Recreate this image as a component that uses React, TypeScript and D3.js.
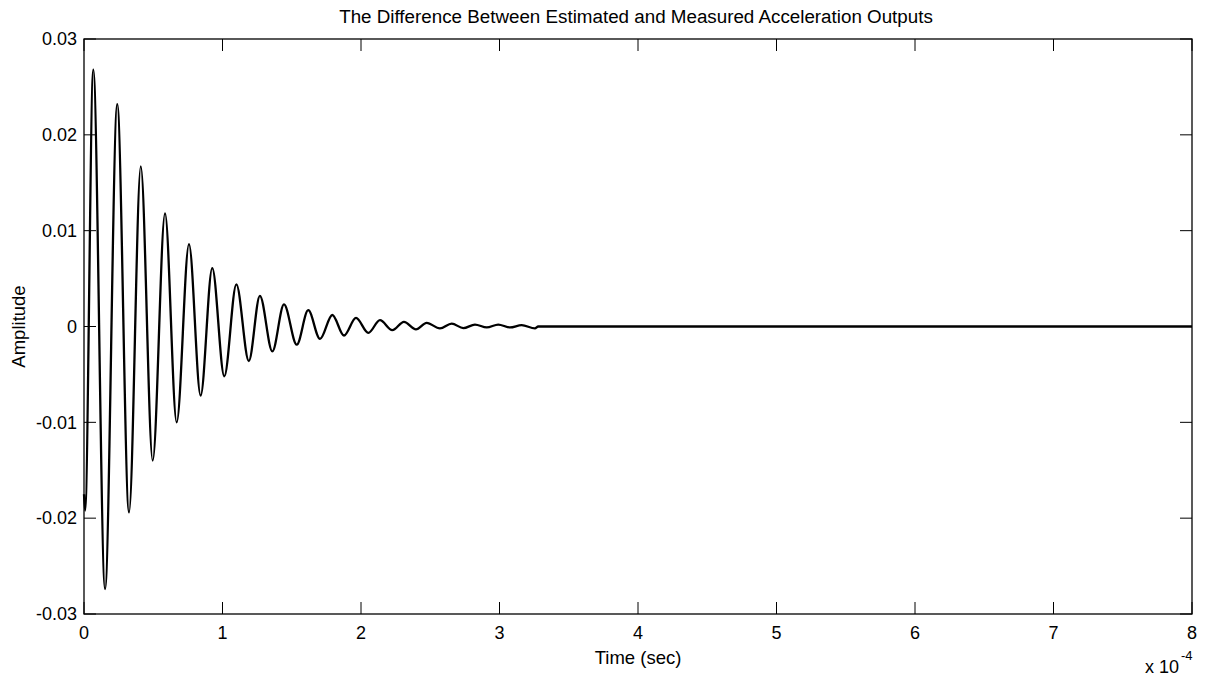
import React from "react";
import * as d3 from "d3";

// time in units of 1e-4 s (extrema of the response)
const timeE4 = [
  0, 0.008, 0.067, 0.152, 0.24, 0.325, 0.41, 0.496, 0.585, 0.669, 0.758, 0.842,
  0.926, 1.013, 1.1, 1.19, 1.27, 1.36, 1.444, 1.536, 1.619, 1.704, 1.793, 1.877,
  1.964, 2.053, 2.137, 2.226, 2.31, 2.397, 2.474, 2.57, 2.655, 2.739, 2.823,
  2.908, 2.991, 3.076, 3.16, 3.256, 3.28, 8,
];
const amplitude = [
  -0.0175, -0.0192, 0.0268, -0.0274, 0.0232, -0.0194, 0.0167, -0.014, 0.0118,
  -0.01, 0.0086, -0.0072, 0.0061, -0.0052, 0.0044, -0.0036, 0.0032, -0.0026,
  0.0023, -0.0019, 0.0017, -0.0013, 0.0012, -0.00094, 0.0009, -0.00066, 0.00066,
  -0.00038, 0.00049, -0.0003, 0.00038, -0.0002, 0.0003, -0.00017, 0.0002,
  -0.0001, 0.0002, -0.0001, 0.00014, -0.0002, 0, 0,
];
const xTicks = [0, 1, 2, 3, 4, 5, 6, 7, 8];
const yTicks = [-0.03, -0.02, -0.01, 0, 0.01, 0.02, 0.03];
const yTickLabels = ["-0.03", "-0.02", "-0.01", "0", "0.01", "0.02", "0.03"];
const title = "The Difference Between Estimated and Measured Acceleration Outputs";
const xLabel = "Time (sec)";
const yLabel = "Amplitude";

const W = 1209;
const H = 681;
const L = 84;
const R = 1192;
const T = 39;
const B = 614;
const TICK = 12;
const FONT = "Arial, 'Liberation Sans', Helvetica, sans-serif";
const FS = 18;

export default function App() {
  const x = d3.scaleLinear().domain([0, 8]).range([L, R]);
  const y = d3.scaleLinear().domain([-0.03, 0.03]).range([B, T]);
  const pts: [number, number][] = timeE4.map((t, i) => [t, amplitude[i]]);
  const line = d3
    .line<[number, number]>()
    .x((d) => x(d[0]))
    .y((d) => y(d[1]))
    .curve(d3.curveMonotoneX);

  return (
    <svg
      width={W}
      height={H}
      style={{ position: "absolute", left: 0, top: 0, background: "#fff" }}
      fontFamily={FONT}
    >
      <rect x={0} y={0} width={W} height={H} fill="#fff" />
      <path d={line(pts) || ""} fill="none" stroke="#000" strokeWidth={2.3} strokeLinejoin="round" />
      {/* box */}
      <rect x={L} y={T} width={R - L} height={B - T} fill="none" stroke="#000" strokeWidth={1.3} />
      {/* x ticks */}
      {xTicks.map((t) => (
        <g key={"x" + t}>
          <line x1={x(t)} x2={x(t)} y1={B} y2={B - TICK} stroke="#000" strokeWidth={1} />
          <line x1={x(t)} x2={x(t)} y1={T} y2={T + TICK} stroke="#000" strokeWidth={1} />
          <text x={x(t)} y={639} textAnchor="middle" fontSize={FS} fill="#000">
            {t}
          </text>
        </g>
      ))}
      {/* y ticks */}
      {yTicks.map((v, i) => (
        <g key={"y" + i}>
          <line x1={L} x2={L + TICK} y1={y(v)} y2={y(v)} stroke="#000" strokeWidth={1} />
          <line x1={R} x2={R - TICK} y1={y(v)} y2={y(v)} stroke="#000" strokeWidth={1} />
          <text x={77} y={y(v)} dy="0.35em" textAnchor="end" fontSize={FS} fill="#000">
            {yTickLabels[i]}
          </text>
        </g>
      ))}
      <text x={636} y={23} textAnchor="middle" fontSize={18.8} fill="#000">
        {title}
      </text>
      <text x={(L + R) / 2} y={664} textAnchor="middle" fontSize={18.5} fill="#000">
        {xLabel}
      </text>
      <text
        transform={`translate(25,${(T + B) / 2}) rotate(-90)`}
        textAnchor="middle"
        fontSize={18.5}
        fill="#000"
      >
        {yLabel}
      </text>
      <text x={1145} y={673} fontSize={FS} fill="#000">
        x 10
      </text>
      <text x={1181} y={660} fontSize={13} fill="#000">
        -4
      </text>
    </svg>
  );
}
